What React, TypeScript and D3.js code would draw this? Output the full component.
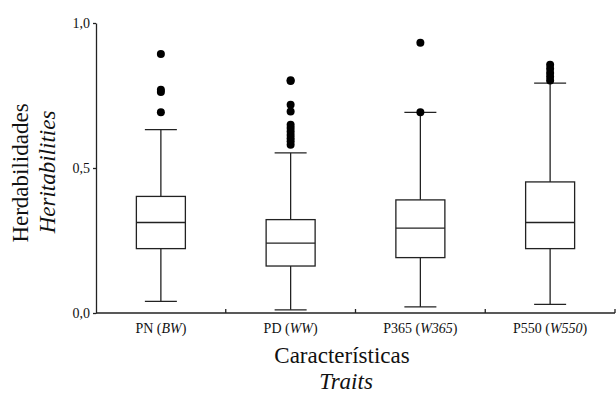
import { useRef, useEffect } from 'react';
import * as d3 from 'd3';

const W = 616;
const H = 395;
const MARGIN = { top: 23, right: 1, bottom: 82, left: 96 };

// Box-plot summaries
const categories = ['PN', 'PD', 'P365', 'P550'];
const englishNames = ['BW', 'WW', 'W365', 'W550'];
const whiskerLow = [0.04, 0.011, 0.021, 0.03];
const q1 = [0.222, 0.162, 0.191, 0.222];
const median = [0.312, 0.241, 0.293, 0.312];
const q3 = [0.402, 0.322, 0.39, 0.452];
const whiskerHigh = [0.632, 0.552, 0.692, 0.793];
const outliers = [
  [0.893, 0.77, 0.762, 0.692],
  [0.803, 0.8, 0.718, 0.695, 0.649, 0.638, 0.626, 0.614, 0.603, 0.592, 0.58],
  [0.932, 0.692],
  [0.856, 0.842, 0.828, 0.815, 0.802],
];
const yTicks = [0, 0.5, 1];

const FONT = '"Liberation Serif", "Times New Roman", serif';
const STROKE = '#222';

export default function App() {
  const svgRef = useRef<SVGSVGElement>(null);

  useEffect(() => {
    const svg = d3.select(svgRef.current);
    svg.selectAll('*').remove();

    const x = d3.scaleBand()
      .domain(categories)
      .range([MARGIN.left, W - MARGIN.right]);
    const y = d3.scaleLinear()
      .domain([0, 1])
      .range([H - MARGIN.bottom, MARGIN.top]);

    const boxW = 49;
    const capW = 32;
    const fmt = (d: number) => d3.format('.1f')(d).replace('.', ',');

    // Y axis
    const yAxis = svg.append('g')
      .attr('transform', `translate(${MARGIN.left},0)`)
      .call(d3.axisLeft(y).tickValues(yTicks).tickFormat(fmt as any).tickSize(3).tickSizeOuter(0).tickPadding(3));
    yAxis.select('.domain').attr('stroke', STROKE).attr('stroke-width', 1.3);
    yAxis.selectAll('line').attr('stroke', STROKE).attr('stroke-width', 1.3);
    yAxis.selectAll('text')
      .attr('font-family', FONT).attr('font-size', 14).attr('fill', '#111');

    // X axis with boundary ticks pointing inward
    const xAxisY = y(0);
    svg.append('line')
      .attr('x1', MARGIN.left).attr('x2', W - MARGIN.right)
      .attr('y1', xAxisY).attr('y2', xAxisY)
      .attr('stroke', STROKE).attr('stroke-width', 1.3);
    categories.forEach(c => {
      const bx = (x(c) as number) + x.bandwidth();
      svg.append('line')
        .attr('x1', bx).attr('x2', bx)
        .attr('y1', xAxisY).attr('y2', xAxisY - 4)
        .attr('stroke', STROKE).attr('stroke-width', 1.3);
    });

    // Category labels
    categories.forEach((c, i) => {
      const t = svg.append('text')
        .attr('x', (x(c) as number) + x.bandwidth() / 2)
        .attr('y', 333)
        .attr('text-anchor', 'middle')
        .attr('font-family', FONT).attr('font-size', 14).attr('fill', '#111');
      t.append('tspan').text(`${c} (`);
      t.append('tspan').attr('font-style', 'italic').text(englishNames[i]);
      t.append('tspan').text(')');
    });

    // Boxes
    const g = svg.append('g');
    categories.forEach((c, i) => {
      const cx = (x(c) as number) + x.bandwidth() / 2;
      const line = (x1: number, y1: number, x2: number, y2: number) =>
        g.append('line').attr('x1', x1).attr('y1', y1).attr('x2', x2).attr('y2', y2)
          .attr('stroke', STROKE).attr('stroke-width', 1.3);

      line(cx, y(q3[i]), cx, y(whiskerHigh[i]));
      line(cx, y(q1[i]), cx, y(whiskerLow[i]));
      line(cx - capW / 2, y(whiskerHigh[i]), cx + capW / 2, y(whiskerHigh[i]));
      line(cx - capW / 2, y(whiskerLow[i]), cx + capW / 2, y(whiskerLow[i]));

      g.append('rect')
        .attr('x', cx - boxW / 2).attr('width', boxW)
        .attr('y', y(q3[i])).attr('height', y(q1[i]) - y(q3[i]))
        .attr('fill', 'white').attr('stroke', STROKE).attr('stroke-width', 1.3);
      line(cx - boxW / 2, y(median[i]), cx + boxW / 2, y(median[i]));

      g.selectAll(null)
        .data(outliers[i])
        .join('circle')
        .attr('cx', cx).attr('cy', d => y(d)).attr('r', 4)
        .attr('fill', '#000');
    });

    // Axis titles
    svg.append('text')
      .attr('x', 342).attr('y', 363)
      .attr('text-anchor', 'middle')
      .attr('font-family', FONT).attr('font-size', 23).attr('fill', '#111')
      .text('Características');
    svg.append('text')
      .attr('x', 346).attr('y', 389)
      .attr('text-anchor', 'middle')
      .attr('font-family', FONT).attr('font-size', 23).attr('font-style', 'italic').attr('fill', '#111')
      .text('Traits');

    svg.append('text')
      .attr('transform', 'translate(28,173) rotate(-90)')
      .attr('text-anchor', 'middle')
      .attr('font-family', FONT).attr('font-size', 23).attr('fill', '#111')
      .text('Herdabilidades');
    svg.append('text')
      .attr('transform', 'translate(55,172) rotate(-90)')
      .attr('text-anchor', 'middle')
      .attr('font-family', FONT).attr('font-size', 23).attr('font-style', 'italic').attr('fill', '#111')
      .text('Heritabilities');
  }, []);

  return (
    <svg ref={svgRef} width={W} height={H}
      style={{ position: 'absolute', left: 0, top: 0, background: 'white' }} />
  );
}
